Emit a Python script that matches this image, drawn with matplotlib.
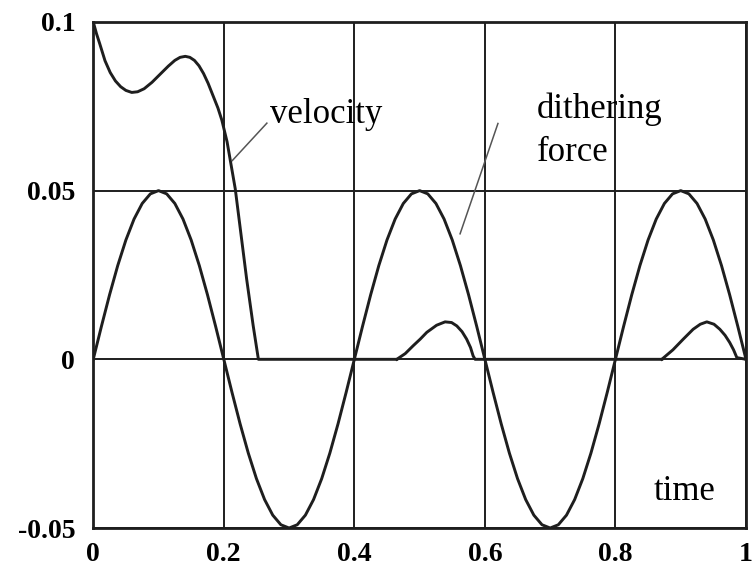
import numpy as np
import matplotlib.pyplot as plt

plt.rcParams['font.family'] = ['Liberation Serif', 'DejaVu Serif']

# dithering force, every 0.0125 s
force_t = np.arange(81) * 0.0125
force_v = [0.0, 0.00975, 0.01913, 0.02778, 0.03536, 0.04157, 0.04619, 0.04904,
           0.05, 0.04904, 0.04619, 0.04157, 0.03536, 0.02778, 0.01913, 0.00975,
           0.0, -0.00975, -0.01913, -0.02778, -0.03536, -0.04157, -0.04619, -0.04904,
           -0.05, -0.04904, -0.04619, -0.04157, -0.03536, -0.02778, -0.01913, -0.00975,
           0.0, 0.00975, 0.01913, 0.02778, 0.03536, 0.04157, 0.04619, 0.04904,
           0.05, 0.04904, 0.04619, 0.04157, 0.03536, 0.02778, 0.01913, 0.00975,
           0.0, -0.00975, -0.01913, -0.02778, -0.03536, -0.04157, -0.04619, -0.04904,
           -0.05, -0.04904, -0.04619, -0.04157, -0.03536, -0.02778, -0.01913, -0.00975,
           0.0, 0.00975, 0.01913, 0.02778, 0.03536, 0.04157, 0.04619, 0.04904,
           0.05, 0.04904, 0.04619, 0.04157, 0.03536, 0.02778, 0.01913, 0.00975,
           0.0]

# velocity (sticks at zero between the pieces)
vel1_t = [0.0, 0.005, 0.01, 0.018, 0.026, 0.034, 0.042, 0.05, 0.059, 0.068,
          0.078, 0.09, 0.103, 0.115, 0.125, 0.133, 0.141, 0.148, 0.155, 0.162,
          0.169, 0.176, 0.184, 0.191, 0.197, 0.205, 0.2175, 0.235, 0.245,
          0.253, 0.465]
vel1_v = [0.1, 0.0965, 0.0935, 0.0885, 0.085, 0.0825, 0.0808, 0.0797, 0.0791,
          0.0793, 0.0802, 0.0821, 0.0846, 0.0869, 0.0886, 0.0895, 0.0898,
          0.0895, 0.0886, 0.087, 0.0847, 0.0818, 0.0779, 0.0745, 0.0709,
          0.0645, 0.0506, 0.0238, 0.01, 0.0, 0.0]
vel2_t = [0.465, 0.478, 0.49, 0.501, 0.511, 0.526, 0.539, 0.549, 0.557, 0.565,
          0.572, 0.578, 0.582, 0.585, 0.871]
vel2_v = [0.0, 0.0017, 0.004, 0.006, 0.008, 0.0101, 0.0111, 0.0109, 0.0099,
          0.0082, 0.006, 0.0035, 0.001, 0.0, 0.0]
vel3_t = [0.871, 0.888, 0.904, 0.919, 0.93, 0.94, 0.951, 0.96, 0.968, 0.975,
          0.981, 0.986, 1.0]
vel3_v = [0.0, 0.0028, 0.006, 0.0089, 0.0104, 0.0111, 0.0104, 0.0089, 0.0071,
          0.005, 0.0028, 0.0005, 0.0]

x_ticks = [0, 0.2, 0.4, 0.6, 0.8, 1]
x_labels = ['0', '0.2', '0.4', '0.6', '0.8', '1']
y_ticks = [-0.05, 0, 0.05, 0.1]
y_labels = ['-0.05', '0', '0.05', '0.1']

ink = '#1e1e1e'

fig = plt.figure(figsize=(7.52, 5.68), dpi=100)
ax = fig.add_axes([0.124, 0.0704, 0.868, 0.891])

for t, v in [(vel1_t, vel1_v), (vel2_t, vel2_v), (vel3_t, vel3_v)]:
    ax.plot(t, v, color=ink, lw=2.1, solid_joinstyle='round')
ax.plot(force_t, force_v, color=ink, lw=2.1, solid_joinstyle='round')

ax.set_xlim(0, 1)
ax.set_ylim(-0.05, 0.1)
ax.set_xticks(x_ticks)
ax.set_xticklabels(x_labels)
ax.set_yticks(y_ticks)
ax.set_yticklabels(y_labels)
ax.tick_params(length=0, labelsize=20)
ax.tick_params(axis='y', pad=13)
ax.tick_params(axis='x', pad=10)
for lab in ax.get_xticklabels() + ax.get_yticklabels():
    lab.set_fontweight('bold')
ax.grid(True, color=ink, lw=1.4)
for s in ax.spines.values():
    s.set_linewidth(2.0)
    s.set_color(ink)

ax.text(0.271, 0.070, 'velocity', fontsize=25, va='baseline', ha='left')
ax.plot([0.266, 0.213], [0.0700, 0.0589], color='#555555', lw=1.1)
ax.text(0.680, 0.0714, 'dithering', fontsize=25, va='baseline', ha='left')
ax.text(0.680, 0.0589, 'force', fontsize=25, va='baseline', ha='left')
ax.plot([0.620, 0.562], [0.0699, 0.0372], color='#555555', lw=1.1)
ax.text(0.858, -0.0417, 'time', fontsize=25, va='baseline', ha='left')

fig.savefig('out.png', dpi=100)
